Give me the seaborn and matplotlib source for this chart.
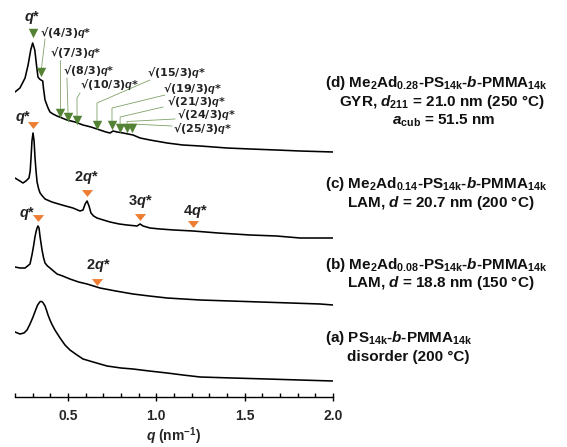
import matplotlib
matplotlib.use("Agg")
import matplotlib.pyplot as plt
import seaborn as sns

# ---------------- data (q in nm^-1, intensity in offset arbitrary units) ----------------
q_d = [0.200, 0.228, 0.257, 0.274, 0.289, 0.300, 0.312, 0.323, 0.330, 0.339, 0.347, 0.357,
       0.361, 0.370, 0.387, 0.398, 0.415, 0.438, 0.466, 0.494, 0.540, 0.585, 0.630, 0.681,
       0.715, 0.738, 0.755, 0.778, 0.812, 0.840, 0.868, 0.908, 0.964, 1.061, 1.150, 1.248,
       1.400, 1.531, 1.680, 1.814, 2.000]
I_d = [305, 309, 319, 332, 347, 354, 347, 330, 320, 318, 317, 316,
       309, 297, 289, 285, 283, 281, 279, 277, 275, 272, 270, 267,
       265, 264, 266, 265, 264, 263, 262, 259, 257, 254, 252, 251,
       249, 248, 247, 246, 245]

q_c = [0.200, 0.228, 0.245, 0.262, 0.279, 0.286, 0.291, 0.296, 0.302, 0.308, 0.313, 0.319,
       0.325, 0.334, 0.342, 0.355, 0.370, 0.409, 0.466, 0.528, 0.568, 0.585, 0.597, 0.608,
       0.619, 0.630, 0.645, 0.664, 0.700, 0.738, 0.790, 0.834, 0.891, 0.908, 0.925, 0.964,
       1.021, 1.100, 1.208, 1.350, 1.531, 1.680, 1.814, 2.000]
I_c = [219, 216, 214, 216, 219, 226, 240, 256, 264, 256, 240, 226,
       215, 208, 204, 201, 198, 195, 192, 189, 186, 187, 193, 196,
       191, 184, 181, 179, 177, 175, 173, 172, 171, 173, 171, 169,
       168, 167, 166, 164, 162, 161, 159, 159]

q_b = [0.200, 0.228, 0.257, 0.285, 0.296, 0.306, 0.313, 0.320, 0.325, 0.330, 0.336, 0.342,
       0.348, 0.353, 0.362, 0.370, 0.384, 0.398, 0.418, 0.438, 0.470, 0.511, 0.560, 0.608,
       0.681, 0.770, 0.868, 0.960, 1.061, 1.248, 1.420, 1.588, 1.760, 1.927, 2.000]
I_b = [130, 129, 129, 133, 142, 152, 160, 166, 169, 171, 169, 160,
       153, 147, 139, 134, 131, 129, 126, 123, 121, 118, 115, 113,
       109, 106, 103, 101, 99, 97, 96, 95, 94, 93, 92]

q_a = [0.200, 0.228, 0.251, 0.268, 0.285, 0.302, 0.319, 0.328, 0.336, 0.343, 0.351, 0.358,
       0.370, 0.378, 0.387, 0.398, 0.408, 0.426, 0.455, 0.483, 0.511, 0.551, 0.585, 0.642,
       0.721, 0.800, 0.868, 0.960, 1.061, 1.150, 1.248, 1.430, 1.627, 1.810, 2.000]
I_a = [65, 63, 64, 67, 73, 80, 88, 92, 94, 95.5, 95.5, 94.5,
       91, 87, 82, 77, 73, 67, 59, 52, 47, 42, 38, 35,
       31, 29, 28, 26, 24, 22, 20, 19, 18, 17, 16]

# green (GYR) reflection markers on curve d
green_q = [0.300, 0.350, 0.455, 0.500, 0.551, 0.664, 0.749, 0.795, 0.834, 0.862]
green_I = [364, 325, 284, 280, 277, 272, 272, 269, 269, 269]
green_labels = [r"$\mathit{q}$*", r"√(4/3)$\mathit{q}$*", r"√(7/3)$\mathit{q}$*",
                r"√(8/3)$\mathit{q}$*", r"√(10/3)$\mathit{q}$*", r"√(15/3)$\mathit{q}$*",
                r"√(19/3)$\mathit{q}$*", r"√(21/3)$\mathit{q}$*", r"√(24/3)$\mathit{q}$*",
                r"√(25/3)$\mathit{q}$*"]

# orange (LAM) reflection markers on curves c and b
orange_q = [0.302, 0.608, 0.908, 1.208, 0.330, 0.664]
orange_I = [272, 204, 180, 173, 179, 115]
orange_labels = [r"$\mathit{q}$*", r"2$\mathit{q}$*", r"3$\mathit{q}$*", r"4$\mathit{q}$*",
                 r"$\mathit{q}$*", r"2$\mathit{q}$*"]

# ---------------- style ----------------
sns.set_theme(style="white")
plt.rcParams['font.family'] = ['Liberation Sans', 'DejaVu Sans']
plt.rcParams['font.weight'] = 'bold'
plt.rcParams['mathtext.fontset'] = 'custom'
plt.rcParams['mathtext.rm'] = 'Liberation Sans:bold'
plt.rcParams['mathtext.it'] = 'Liberation Sans:bold:italic'
plt.rcParams['mathtext.bf'] = 'Liberation Sans:bold'
plt.rcParams['mathtext.default'] = 'rm'

GREEN = '#548235'
ORANGE = '#ED7D31'

fig = plt.figure(figsize=(5.67, 4.47), dpi=100)
ax = fig.add_axes([15 / 567, 50 / 447, (333 - 15) / 567, 397 / 447])

for q, I in [(q_a, I_a), (q_b, I_b), (q_c, I_c), (q_d, I_d)]:
    sns.lineplot(x=q, y=I, ax=ax, color='black', lw=1.15, estimator=None, sort=False)

# markers
sns.scatterplot(x=green_q, y=green_I, ax=ax, marker='v', s=46, color=GREEN,
                linewidth=0, zorder=5)
tri = [(-1, 0.62), (1, 0.62), (0, -0.62), (-1, 0.62)]
sns.scatterplot(x=orange_q, y=orange_I, ax=ax, marker=tri, s=64, color=ORANGE,
                linewidth=0, zorder=5)

# green labels (q, I, ha)
green_text_pos = [(0.296, 380, 'center'), (0.342, 365, 'left'), (0.398, 345, 'left'),
                  (0.472, 327, 'left'), (0.568, 312, 'left'), (0.947, 325, 'left'),
                  (1.038, 309, 'left'), (1.061, 295.5, 'left'), (1.117, 282, 'left'),
                  (1.095, 268, 'left')]
for i, ((tx, ty, ha), lab) in enumerate(zip(green_text_pos, green_labels)):
    if i == 0:
        ax.text(tx, ty, lab, ha=ha, va='center', fontsize=10.5, fontweight='bold',
                color='#222222')
    else:
        ax.text(tx, ty, lab, ha=ha, va='center', fontsize=8.0, fontweight='bold',
                family=['DejaVu Sans'], color='#222222')

# connector lines for the green labels: start point, bend level
conn_start = [None, (0.370, 358), (0.455, 337), (0.494, 319), (0.568, 304), (0.964, 317),
              (1.049, 302), (1.038, 290), (1.106, 278), (1.089, 271)]
conn_bend = [None, None, None, None, 299, 294, 289, 280, 275.5, None]
for i in range(1, len(green_q)):
    sx, sy = conn_start[i]
    xs, ys = [sx], [sy]
    if conn_bend[i] is not None:
        xs.append(green_q[i]); ys.append(conn_bend[i])
    xs.append(green_q[i]); ys.append(green_I[i] + 4)
    ax.plot(xs, ys, color=GREEN, lw=0.6, alpha=0.75, zorder=4)

# orange labels
orange_text_pos = [(0.245, 279), (0.602, 220), (0.908, 195), (1.219, 186),
                   (0.268, 184), (0.670, 131)]
for (tx, ty), lab in zip(orange_text_pos, orange_labels):
    ax.text(tx, ty, lab, ha='center', va='center', fontsize=10.5, fontweight='bold',
            color='#222222')

# axes styling
ax.set_xlim(0.2, 2.0)
ax.set_ylim(0, 397)
for s in ['left', 'right', 'top']:
    ax.spines[s].set_visible(False)
ax.spines['bottom'].set_color('black')
ax.spines['bottom'].set_linewidth(1.0)
ax.set_yticks([])
ax.set_xticks([0.5, 1.0, 1.5, 2.0])
ax.set_xticklabels(['0.5', '1.0', '1.5', '2.0'], fontsize=10, fontweight='bold')
ax.set_xticks([0.2, 0.3, 0.4, 0.6, 0.7, 0.8, 0.9, 1.1, 1.2, 1.3, 1.4, 1.6, 1.7, 1.8, 1.9],
              minor=True)
ax.tick_params(axis='x', which='major', direction='inout', length=6, width=1.0,
               color='black', bottom=True, pad=6)
ax.tick_params(axis='x', which='minor', direction='in', length=3, width=1.0,
               color='black', bottom=True)
ax.set_xlabel(r"$\mathit{q}$ (nm$^{-1}$)", fontsize=10, fontweight='bold')
ax.xaxis.set_label_coords(0.5, -39 / 397, transform=ax.transAxes)
ax.xaxis.label.set_verticalalignment('center')
ax.set_ylabel('')
ax.patch.set_alpha(0)

# sample descriptions on the right (figure pixel positions)
W, H = 567, 447
desc = [
    (325, 83, r"(d) Me$_2$Ad$_{0.28}$-PS$_{14k}$-$\mathit{b}$-PMMA$_{14k}$"),
    (339, 102, r"GYR, $\mathit{d}$$_{211}$ = 21.0 nm (250 °C)"),
    (392, 120.5, r"$\mathit{a}$$_{cub}$ = 51.5 nm"),
    (325, 184, r"(c) Me$_2$Ad$_{0.14}$-PS$_{14k}$-$\mathit{b}$-PMMA$_{14k}$"),
    (347, 203, r"LAM, $\mathit{d}$ = 20.7 nm (200 °C)"),
    (325, 265, r"(b) Me$_2$Ad$_{0.08}$-PS$_{14k}$-$\mathit{b}$-PMMA$_{14k}$"),
    (347, 283, r"LAM, $\mathit{d}$ = 18.8 nm (150 °C)"),
    (325, 338, r"(a) PS$_{14k}$-$\mathit{b}$-PMMA$_{14k}$"),
    (347, 357, r"disorder (200 °C)"),
]
for x, y, s in desc:
    fig.text(x / W, 1 - y / H, s, ha='left', va='center', fontsize=11.0, fontweight='bold',
             color='#111111')

fig.savefig('out.png', dpi=100)
